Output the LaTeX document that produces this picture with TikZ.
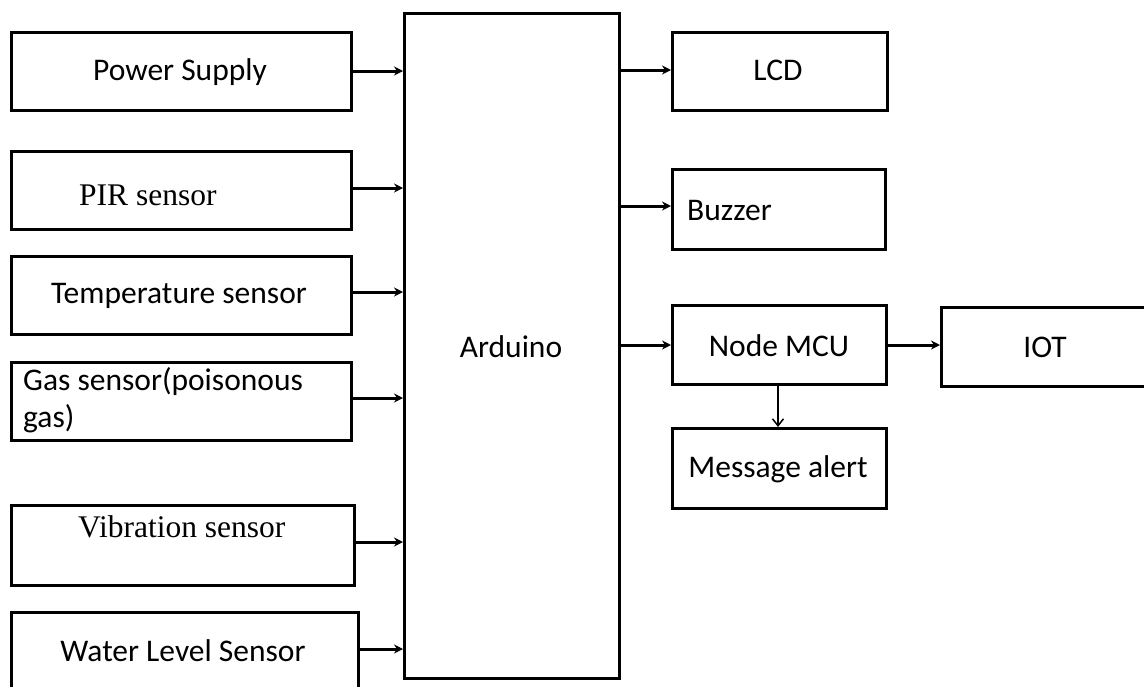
\documentclass[tikz,border=0pt]{standalone}
\usepackage{fontspec}
\setmainfont{Carlito}
\newfontfamily\tnr{Liberation Serif}
\usetikzlibrary{arrows.meta}
\begin{document}
\begin{tikzpicture}[x=1pt,y=-1pt,
  font=\fontsize{31.5}{37}\selectfont,
  blk/.style={draw, line width=3.4pt, rectangle, inner sep=0pt, anchor=north west},
  lbl/.style={inner sep=0pt},
  conn/.style={line width=3pt, -{Stealth[length=9pt,width=9pt]}},
  thin/.style={line width=1.5pt, -{Straight Barb[length=7pt,width=11pt,line width=1.5pt]}}]
\useasboundingbox (0,0) rectangle (1144,686);
\fill[white] (0,0) rectangle (1144,686);
% left column
\node[blk, minimum width=340pt, minimum height=78pt] (ps) at (10,31) {};
\node[lbl] (pst) at (180,72) {Power Supply};
\node[blk, minimum width=340pt, minimum height=78pt] (pir) at (10,150) {};
\node[lbl, anchor=base west] (pirt) at (79,205) {\tnr PIR sensor};
\node[blk, minimum width=340pt, minimum height=78pt] (tmp) at (10,255) {};
\node[lbl] (tmpt) at (179,296) {Temperature sensor};
\node[blk, minimum width=340pt, minimum height=78pt] (gas) at (10,361) {};
\node[lbl, anchor=base west] (gast1) at (23,390) {Gas sensor(poisonous};
\node[lbl, anchor=base west] (gast2) at (23,427) {gas)};
\node[blk, minimum width=343pt, minimum height=80pt] (vib) at (10,504) {};
\node[lbl, anchor=base west] (vibt) at (78,537) {\tnr Vibration sensor};
\node[blk, minimum width=347pt, minimum height=90pt] (wat) at (10,611) {};
\node[lbl, anchor=base] (watt) at (183,661) {Water Level Sensor};
% arduino
\node[blk, minimum width=215pt, minimum height=665pt] (ard) at (403,12) {};
\node[lbl] (ardt) at (511,347) {Arduino};
% right column
\node[blk, minimum width=215pt, minimum height=78pt] (lcd) at (671,31) {};
\node[lbl] (lcdt) at (778,70) {LCD};
\node[blk, minimum width=213pt, minimum height=80pt] (buz) at (671,168) {};
\node[lbl, anchor=base west] (buzt) at (687,220) {Buzzer};
\node[blk, minimum width=214pt, minimum height=79pt] (mcu) at (671,304) {};
\node[lbl] (mcut) at (779,346) {Node MCU};
\node[blk, minimum width=220pt, minimum height=79pt] (iot) at (940,306) {};
\node[lbl] (iott) at (1045,347) {IOT};
\node[blk, minimum width=214pt, minimum height=80pt] (msg) at (671,427) {};
\node[lbl] (msgt) at (778,469) {Message alert};
% connectors
\draw[conn] (ps.east |- 0,71) -- (ard.west |- 0,71);
\draw[conn] (pir.east |- 0,188) -- (ard.west |- 0,188);
\draw[conn] (tmp.east |- 0,292) -- (ard.west |- 0,292);
\draw[conn] (gas.east |- 0,398) -- (ard.west |- 0,398);
\draw[conn] (vib.east |- 0,542) -- (ard.west |- 0,542);
\draw[conn] (wat.east |- 0,649) -- (ard.west |- 0,649);
\draw[conn] (ard.east |- 0,70) -- (lcd.west |- 0,70);
\draw[conn] (ard.east |- 0,206) -- (buz.west |- 0,206);
\draw[conn] (ard.east |- 0,345) -- (mcu.west |- 0,345);
\draw[conn] (mcu.east |- 0,345) -- (iot.west |- 0,345);
\draw[thin] (mcu.south -| 778,0) -- (msg.north -| 778,0);
\end{tikzpicture}
\end{document}
